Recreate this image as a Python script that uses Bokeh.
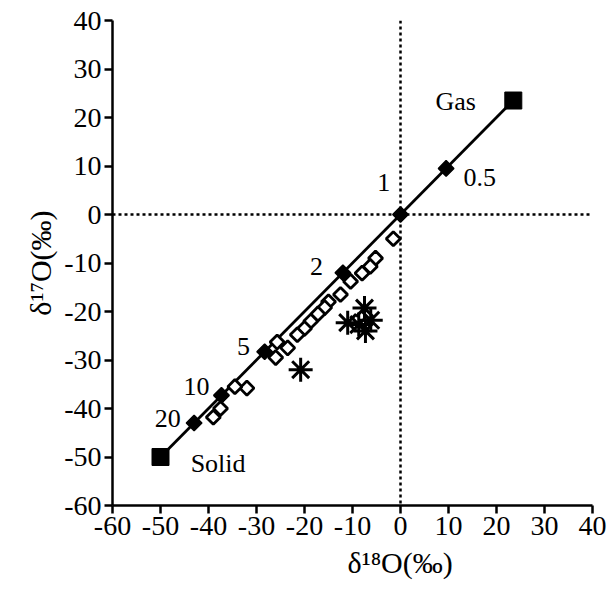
import math
from bokeh.plotting import figure
from bokeh.models import Range1d, FixedTicker, Span, Title
from bokeh.core.properties import value
from bokeh.embed import file_html
from bokeh.resources import INLINE

# end members
end_x = [-50, 23.5]
end_y = [-50, 23.5]
end_names = ["Solid", "Gas"]
end_lx = [-38.0, 11.5]
end_ly = [-51.3, 23.3]

# labelled points on the fractionation line
frac_labels = ["0.5", "1", "2", "5", "10", "20"]
frac_x = [9.5, 0, -12, -28.3, -37.3, -43]
frac_y = [9.5, 0, -12, -28.3, -37.3, -43]
frac_lx = [16.5, -3.5, -17.5, -32.7, -42.5, -48.5]
frac_ly = [7.6, 6.6, -10.7, -27.2, -35.5, -42.0]

# open diamonds (measured)
open_x = [-1.5, -5.2, -6.3, -8.0, -10.4, -12.5, -15.0, -15.8, -17.2, -18.7, -20.0,
          -21.5, -23.5, -25.7, -26.0, -32.0, -34.5, -37.5, -39.0]
open_y = [-5.0, -9.0, -10.7, -12.1, -13.8, -16.5, -18.0, -19.2, -20.5, -22.0, -23.5,
          -24.8, -27.5, -26.3, -29.5, -35.8, -35.5, -40.0, -41.8]

# asterisks
ast_x = [-7.5, -11.0, -8.7, -6.2, -7.3, -20.8]
ast_y = [-19.3, -22.3, -22.7, -21.8, -24.0, -32.0]

ticks = [-60, -50, -40, -30, -20, -10, 0, 10, 20, 30, 40]
tick_labels = {t: str(t) for t in ticks}

x_title = "δ¹⁸O(‰)"
y_title = "δ¹⁷O(‰)"

FONT = "Liberation Serif"

p = figure(width=608, height=591, output_backend="svg", toolbar_location=None,
           x_range=Range1d(-60, 40), y_range=Range1d(-60, 40),
           min_border_left=112, min_border_right=16, min_border_top=20,
           min_border_bottom=86)
p.outline_line_color = None
p.xgrid.visible = False
p.ygrid.visible = False
p.background_fill_color = "white"
p.border_fill_color = "white"

for ax in (p.xaxis, p.yaxis):
    ax.ticker = FixedTicker(ticks=ticks)
    ax.major_label_overrides = tick_labels
    ax.axis_line_width = 2.5
    ax.axis_line_color = "black"
    ax.major_tick_line_width = 2.5
    ax.major_tick_line_color = "black"
    ax.major_tick_out = 8
    ax.major_tick_in = 0
    ax.minor_tick_line_color = None
    ax.major_label_text_font = FONT
    ax.major_label_text_font_size = "28px"
    ax.major_label_text_color = "black"

p.xaxis.major_label_standoff = 3
p.yaxis.major_label_standoff = 3

p.yaxis.axis_label = y_title
p.yaxis.axis_label_text_font = FONT
p.yaxis.axis_label_text_font_size = "30px"
p.yaxis.axis_label_text_font_style = "normal"
p.yaxis.axis_label_text_color = "black"
p.yaxis.axis_label_standoff = 4

# x title sits under the zero tick, as in the original
p.add_layout(Title(text=x_title, align="left", offset=235, text_font=FONT,
                   text_font_size="30px", text_font_style="normal", text_color="black",
                   standoff=12), "below")

p.add_layout(Span(location=0, dimension="width", line_dash="3 3", line_width=2.5, line_color="black"))
p.add_layout(Span(location=0, dimension="height", line_dash="3 3", line_width=2.5, line_color="black"))

p.line(end_x, end_y, line_width=2.8, line_color="black")

p.scatter(open_x, open_y, marker="square", angle=math.pi / 4, size=10, fill_color="white",
          line_color="black", line_width=2.8)
p.scatter(ast_x, ast_y, marker="asterisk", size=24, line_color="black", line_width=3)
p.scatter(frac_x, frac_y, marker="square", angle=math.pi / 4, size=11, fill_color="black",
          line_color="black", line_width=1.5)
p.scatter(end_x, end_y, marker="square", size=17, fill_color="black", line_color="black")

p.text(frac_lx, frac_ly, text=frac_labels, text_font=value(FONT), text_font_size="26px",
       text_align="center", text_baseline="middle", text_color="black")
p.text(end_lx, end_ly, text=end_names, text_font=value(FONT), text_font_size="26px",
       text_align="center", text_baseline="middle", text_color="black")

open("out.html", "w").write(file_html(p, INLINE))
